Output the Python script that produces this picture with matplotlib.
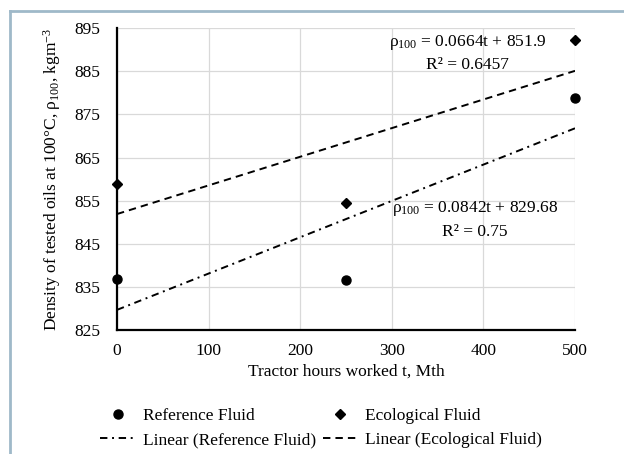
import numpy as np
import matplotlib
matplotlib.use("Agg")
import matplotlib.pyplot as plt
from matplotlib.lines import Line2D

plt.rcParams['font.family'] = ['Liberation Serif', 'DejaVu Serif']
plt.rcParams['mathtext.fontset'] = 'custom'
plt.rcParams['mathtext.rm'] = 'Liberation Serif'
plt.rcParams['mathtext.default'] = 'regular'

# data
hours = [0, 250, 500]
reference_fluid = [836.8, 836.5, 878.9]
ecological_fluid = [858.95, 854.4, 892.15]

x_ticks = [0, 100, 200, 300, 400, 500]
y_ticks = [825, 835, 845, 855, 865, 875, 885, 895]

fig = plt.figure(figsize=(6.24, 4.54), dpi=100)
ax = fig.add_axes([0.1875, 0.273, 0.734, 0.665])

t = np.array([0, 500])
k_ref, b_ref = np.polyfit(hours, reference_fluid, 1)
k_eco, b_eco = np.polyfit(hours, ecological_fluid, 1)

p_ref, = ax.plot(hours, reference_fluid, 'o', color='black', ms=6.5,
                 clip_on=False, zorder=4, label='Reference Fluid')
p_eco, = ax.plot(hours, ecological_fluid, 'D', color='black', ms=5,
                 clip_on=False, zorder=4, label='Ecological Fluid')
l_ref, = ax.plot(t, k_ref * t + b_ref, color='black', lw=1.4,
                 dashes=(3.8, 2.4, 1, 2.4), label='Linear (Reference Fluid)')
l_eco, = ax.plot(t, k_eco * t + b_eco, color='black', lw=1.4,
                 dashes=(3.8, 2.6), label='Linear (Ecological Fluid)')

ax.set_xlim(0, 500)
ax.set_ylim(825, 895)
ax.set_xticks(x_ticks)
ax.set_yticks(y_ticks)
ax.tick_params(length=0, labelsize=12.5)
ax.tick_params(axis='y', pad=12)
ax.tick_params(axis='x', pad=9)
ax.grid(True, color='#d9d9d9', lw=0.9)
ax.set_axisbelow(True)
for s in ['top', 'right']:
    ax.spines[s].set_visible(False)
for s in ['left', 'bottom']:
    ax.spines[s].set_linewidth(1.6)
    ax.spines[s].set_zorder(3)

ax.set_xlabel('Tractor hours worked t, Mth', fontsize=12.5, labelpad=4)
ax.set_ylabel('Density of tested oils at 100°C, ρ$_{100}$, kgm$^{-3}$',
              fontsize=12.5, labelpad=8)

ax.text(383, 893.9, 'ρ$_{100}$ = 0.0664t + 851.9\nR² = 0.6457',
        ha='center', va='top', fontsize=12.5, multialignment='center',
        linespacing=1.45)
ax.text(391, 855.3, 'ρ$_{100}$ = 0.0842t + 829.68\nR² = 0.75',
        ha='center', va='top', fontsize=12.5, multialignment='center',
        linespacing=1.45)

# row-wise legend order: markers on top, trend lines below
fig.legend([p_ref, l_ref, p_eco, l_eco],
           [p_ref.get_label(), l_ref.get_label(), p_eco.get_label(), l_eco.get_label()],
           loc='upper center', bbox_to_anchor=(0.515, 0.135), ncol=2,
           frameon=False, fontsize=12.5, handlelength=2.0,
           columnspacing=0.4, handletextpad=0.45, labelspacing=0.45)

# light frame on left and top
fig.add_artist(Line2D([0.016, 0.016], [0, 0.976], color='#9fb9c9', lw=2,
                      transform=fig.transFigure))
fig.add_artist(Line2D([0.016, 1], [0.976, 0.976], color='#9fb9c9', lw=2,
                      transform=fig.transFigure))

fig.savefig('out.png', dpi=100)
